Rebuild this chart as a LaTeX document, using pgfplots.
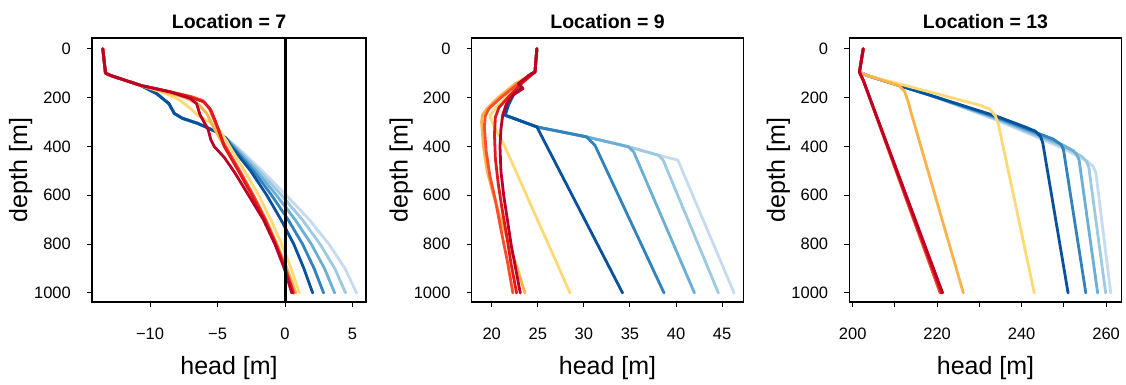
\documentclass[border=0pt]{standalone}
\usepackage{fontspec}
\setmainfont{Liberation Sans}
\usepackage{pgfplots}
\pgfplotsset{compat=1.18}
\definecolor{bA}{HTML}{C6DBEF}
\definecolor{bB}{HTML}{9ECAE1}
\definecolor{bC}{HTML}{6BAED6}
\definecolor{bD}{HTML}{3182BD}
\definecolor{bE}{HTML}{08519C}
\definecolor{wA}{HTML}{FED976}
\definecolor{wB}{HTML}{FEB24C}
\definecolor{wC}{HTML}{FC4E2A}
\definecolor{wD}{HTML}{E31A1C}
\definecolor{wE}{HTML}{BD0026}
\pgfplotsset{
  myax/.style={
    scale only axis, height=264pt,
    y dir=reverse, ymin=-44, ymax=1037,
    ytick={0,200,400,600,800,1000}, yticklabels={0,200,400,600,800,1000},
    tick align=outside, xtick pos=left, ytick pos=left,
    major tick length=5pt,
    every tick/.style={black, line width=1pt},
    axis line style={line width=1.2pt, black},
    tick label style={font=\fontsize{16.5}{19}\selectfont},
    yticklabel style={anchor=east, inner sep=0pt, xshift=-16pt},
    xticklabel style={anchor=north, inner sep=0pt, yshift=-21pt},
    every axis title/.style={font=\fontsize{19.5}{22}\selectfont\bfseries, at={(axis description cs:0.5,1)}, anchor=base, yshift=9.5pt},
    every axis x label/.style={font=\fontsize{25}{28}\selectfont, at={(axis description cs:0.5,0)}, anchor=base, yshift=-72pt},
    every axis y label/.style={font=\fontsize{25}{28}\selectfont, at={(axis description cs:-0.26,0.5)}, anchor=center, rotate=90},
    xlabel={head [m]}, ylabel={depth [m]},
    every axis plot/.append style={line width=2.8pt, line join=round, line cap=round},
    no markers
  }
}
\begin{document}
\begin{tikzpicture}
\useasboundingbox (0,0) rectangle (1126pt,385pt);
% ---------------- Location 7
\begin{axis}[myax, at={(92pt,83pt)}, anchor=south west, width=274pt,
  xmin=-14.3, xmax=6.0, xtick={-10,-5,0,5}, xticklabels={−10,−5,0,5},
  title={Location = 7}]
\addplot[bA] coordinates {(-13.5,0)(-13.3,100)(-12.9,110)(-10.7,150)(-9.5,184)(-8.6,225)(-8.2,265)(-7.6,285)(-6.5,305)(-5.8,322)(-5.1,340)(-4.4,365)(-3.6,400)(-1.7,500)(0.1,600)(1.8,700)(3.25,800)(4.45,900)(5.3,1000)};
\addplot[bB] coordinates {(-13.5,0)(-13.3,100)(-12.9,110)(-10.7,150)(-9.5,184)(-8.6,225)(-8.2,265)(-7.6,285)(-6.5,305)(-5.8,322)(-5.1,340)(-4.4,365)(-3.7,400)(-1.91,500)(-0.26,600)(1.28,700)(2.6,800)(3.69,900)(4.49,1000)};
\addplot[bC] coordinates {(-13.5,0)(-13.3,100)(-12.9,110)(-10.7,150)(-9.5,184)(-8.6,225)(-8.2,265)(-7.6,285)(-6.5,305)(-5.8,322)(-5.1,340)(-4.4,365)(-3.8,400)(-2.13,500)(-0.63,600)(0.75,700)(1.95,800)(2.93,900)(3.68,1000)};
\addplot[bD] coordinates {(-13.5,0)(-13.3,100)(-12.9,110)(-10.7,150)(-9.5,184)(-8.6,225)(-8.2,265)(-7.6,285)(-6.5,305)(-5.8,322)(-5.1,340)(-4.4,365)(-3.9,400)(-2.34,500)(-0.99,600)(0.23,700)(1.3,800)(2.16,900)(2.86,1000)};
\addplot[bE] coordinates {(-13.5,0)(-13.3,100)(-12.9,110)(-10.7,150)(-9.5,184)(-8.6,225)(-8.2,265)(-7.6,285)(-6.5,305)(-5.8,322)(-5.1,340)(-4.4,365)(-4.0,400)(-2.55,500)(-1.35,600)(-0.3,700)(0.65,800)(1.4,900)(2.05,1000)};
\addplot[wA] coordinates {(-13.5,0)(-13.3,100)(-12.9,110)(-10.7,150)(-9.0,180)(-7.8,210)(-7.0,245)(-6.4,275)(-5.6,300)(-4.9,330)(-4.3,380)(-4.1,400)(-3.0,500)(-1.95,600)(-1.05,700)(-0.25,800)(0.45,900)(1.06,1000)};
\addplot[wB] coordinates {(-13.5,0)(-13.3,100)(-12.9,110)(-10.7,150)(-8.8,178)(-7.4,200)(-6.4,228)(-5.8,265)(-5.4,310)(-4.9,360)(-4.5,400)(-3.4,500)(-2.35,600)(-1.4,700)(-0.6,800)(0.15,900)(0.8,1000)};
\addplot[wC] coordinates {(-13.5,0)(-13.3,100)(-12.9,110)(-10.7,150)(-8.6,175)(-7.0,195)(-6.1,212)(-5.6,245)(-5.3,285)(-4.95,330)(-4.6,380)(-4.4,400)(-3.35,500)(-2.35,600)(-1.45,700)(-0.65,800)(0.05,900)(0.65,1000)};
\addplot[wD] coordinates {(-13.5,0)(-13.3,100)(-12.9,110)(-10.7,150)(-8.6,175)(-7.1,197)(-6.0,218)(-5.5,250)(-5.2,290)(-4.9,335)(-4.6,385)(-4.5,400)(-3.45,500)(-2.45,600)(-1.5,700)(-0.7,800)(0.0,900)(0.6,1000)};
\addplot[wE] coordinates {(-13.5,0)(-13.3,100)(-12.9,110)(-10.7,150)(-8.5,177)(-7.0,204)(-6.55,225)(-6.3,270)(-5.7,330)(-5.5,372)(-5.25,400)(-4.5,445)(-3.75,505)(-2.7,600)(-1.6,700)(-0.75,800)(-0.05,900)(0.5,1000)};
\addplot[black, line width=3pt, line cap=butt] coordinates {(0,-44)(0,1037)};
\end{axis}
% ---------------- Location 9
\begin{axis}[myax, at={(471.7pt,83pt)}, anchor=south west, width=271.6pt,
  xmin=17.83, xmax=47.3, xtick={20,25,30,35,40,45}, xticklabels={20,25,30,35,40,45},
  title={Location = 9}]
\addplot[bA] coordinates {(24.9,0)(24.7,95)(24.2,105)(22.9,143)(23.3,160)(22.4,185)(21.8,230)(21.45,272)(24.9,320)(30.3,361)(34.8,401)(38.1,436)(40.2,456)(46.3,1000)};
\addplot[bB] coordinates {(24.9,0)(24.7,95)(24.2,105)(22.9,143)(23.3,160)(22.4,185)(21.8,230)(21.45,272)(24.9,320)(30.3,361)(34.8,401)(38.1,436)(38.6,456)(44.6,1000)};
\addplot[bC] coordinates {(24.9,0)(24.7,95)(24.2,105)(22.9,143)(23.3,160)(22.4,185)(21.8,230)(21.45,272)(24.9,320)(30.3,361)(34.8,401)(35.4,422)(42.0,1000)};
\addplot[bD] coordinates {(24.9,0)(24.7,95)(24.2,105)(22.9,143)(23.3,160)(22.4,185)(21.8,230)(21.45,272)(24.9,320)(30.3,361)(31.2,395)(38.7,1000)};
\addplot[bE] coordinates {(24.9,0)(24.7,95)(24.2,105)(22.9,143)(23.3,160)(22.4,185)(21.8,230)(21.45,272)(24.9,320)(34.2,1000)};
\addplot[wA] coordinates {(24.9,0)(24.7,95)(23.0,145)(21.5,200)(20.4,245)(19.8,275)(20.4,330)(21.3,390)(28.5,1000)};
\addplot[wB] coordinates {(24.9,0)(24.7,95)(22.5,145)(20.7,200)(19.5,245)(19.0,270)(18.9,300)(19.1,400)(19.5,500)(20.2,600)(21.0,700)(21.9,800)(22.8,900)(23.6,1000)};
\addplot[wC] coordinates {(24.9,0)(24.7,95)(22.8,145)(21.0,200)(19.7,245)(19.3,275)(19.2,320)(19.4,420)(19.8,520)(20.4,620)(21.0,740)(21.7,870)(22.3,1000)};
\addplot[wD] coordinates {(24.9,0)(24.7,95)(23.3,140)(22.0,190)(20.8,240)(20.4,280)(20.3,350)(20.4,450)(20.7,550)(21.1,650)(21.6,760)(22.1,880)(22.7,1000)};
\addplot[wE] coordinates {(24.9,0)(24.7,95)(24.2,105)(22.9,143)(23.4,163)(22.3,190)(21.6,225)(21.2,270)(21.0,330)(20.9,400)(21.0,500)(21.3,600)(21.7,700)(22.1,800)(22.6,900)(23.1,1000)};
\end{axis}
% ---------------- Location 13
\begin{axis}[myax, at={(849.3pt,83pt)}, anchor=south west, width=272.4pt,
  xmin=199.2, xmax=263.7, xtick={200,220,240,260}, xticklabels={200,220,240,260},
  minor xtick={210,230,250}, minor tick length=5pt, every minor tick/.style={black, line width=1pt},
  title={Location = 13}]
\addplot[bA] coordinates {(202.5,0)(201.6,96)(203.5,110)(218.3,190)(234,292)(242,350)(250,410)(255.5,460)(257.0,483)(257.6,510)(261.1,1000)};
\addplot[bB] coordinates {(202.5,0)(201.6,96)(203.5,110)(218.3,190)(234,288)(242,345)(250,402)(254.2,440)(255.3,460)(255.9,485)(259.9,1000)};
\addplot[bC] coordinates {(202.5,0)(201.6,96)(203.5,110)(218.3,190)(234,284)(242,340)(249.5,392)(252.3,418)(253.1,435)(253.6,455)(258.0,1000)};
\addplot[bD] coordinates {(202.5,0)(201.6,96)(203.5,110)(218.3,190)(234,280)(241.9,333)(247.5,370)(249.3,392)(249.9,412)(255.2,1000)};
\addplot[bE] coordinates {(202.5,0)(201.6,96)(203.5,110)(218.3,190)(234,276)(240.5,318)(243.3,338)(244.5,360)(245.0,385)(251.0,1000)};
\addplot[wA] coordinates {(202.5,0)(201.6,96)(203.5,110)(218.3,177)(230.1,231)(232.5,248)(233.8,275)(234.5,310)(243.0,1000)};
\addplot[wB] coordinates {(202.5,0)(201.6,96)(203.5,110)(209,140)(211,152)(212.3,175)(213.2,220)(213.8,260)(226.2,1000)};
\addplot[wC] coordinates {(202.5,0)(201.6,96)(202.5,129)(220.7,1000)};
\addplot[wD] coordinates {(202.5,0)(201.6,96)(202.5,129)(221.0,1000)};
\addplot[wE] coordinates {(202.5,0)(201.6,96)(202.5,129)(221.3,1000)};
\end{axis}
\end{tikzpicture}
\end{document}
